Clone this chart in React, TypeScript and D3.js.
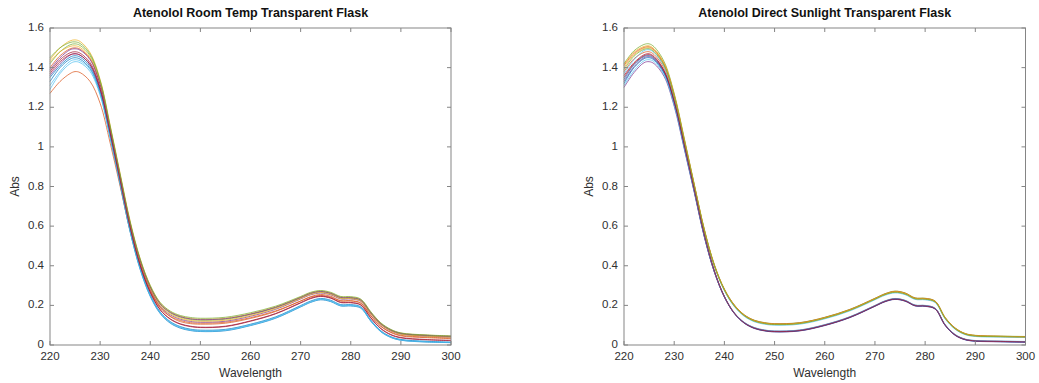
import React from "react";
import * as d3 from "d3";

const wavelengths = [220, 222, 224, 225, 226, 228, 230, 232, 234, 236, 238, 240, 242, 244, 246, 248, 250, 255, 260, 265, 270, 272, 274, 276, 278, 280, 282, 284, 286, 288, 290, 295, 300];

const xTicks = [220, 230, 240, 250, 260, 270, 280, 290, 300];
const yTicks = [0, 0.2, 0.4, 0.6, 0.8, 1, 1.2, 1.4, 1.6];

const lineColors = ["#0072BD", "#D95319", "#EDB120", "#7E2F8E", "#77AC30", "#4DBEEE", "#A2142F"];

const titleLeft = "Atenolol Room Temp Transparent Flask";
const titleRight = "Atenolol Direct Sunlight Transparent Flask";

// Room temp spectra
const roomTemp: number[][] = [
  [1.33, 1.40, 1.443, 1.45, 1.443, 1.395, 1.27, 1.05, 0.81, 0.57, 0.38, 0.245, 0.158, 0.11, 0.085, 0.073, 0.068, 0.072, 0.098, 0.135, 0.192, 0.215, 0.228, 0.219, 0.197, 0.197, 0.186, 0.12, 0.067, 0.038, 0.024, 0.015, 0.012],
  [1.27, 1.33, 1.37, 1.38, 1.375, 1.33, 1.22, 1.02, 0.80, 0.575, 0.395, 0.27, 0.188, 0.145, 0.124, 0.113, 0.11, 0.115, 0.138, 0.172, 0.222, 0.242, 0.25, 0.242, 0.222, 0.222, 0.21, 0.148, 0.095, 0.065, 0.049, 0.04, 0.035],
  [1.44, 1.50, 1.535, 1.54, 1.532, 1.475, 1.34, 1.11, 0.865, 0.625, 0.435, 0.30, 0.212, 0.168, 0.145, 0.134, 0.13, 0.135, 0.158, 0.192, 0.242, 0.263, 0.272, 0.263, 0.242, 0.241, 0.229, 0.165, 0.11, 0.077, 0.06, 0.05, 0.045],
  [1.36, 1.42, 1.463, 1.47, 1.463, 1.415, 1.29, 1.065, 0.83, 0.595, 0.41, 0.28, 0.195, 0.152, 0.13, 0.119, 0.115, 0.12, 0.145, 0.18, 0.232, 0.253, 0.262, 0.253, 0.232, 0.232, 0.22, 0.157, 0.103, 0.071, 0.055, 0.045, 0.04],
  [1.42, 1.48, 1.515, 1.52, 1.512, 1.46, 1.33, 1.10, 0.855, 0.615, 0.428, 0.293, 0.206, 0.162, 0.14, 0.129, 0.125, 0.13, 0.154, 0.188, 0.238, 0.259, 0.268, 0.259, 0.238, 0.237, 0.225, 0.161, 0.106, 0.074, 0.057, 0.047, 0.042],
  [1.29, 1.37, 1.42, 1.43, 1.425, 1.38, 1.26, 1.045, 0.81, 0.57, 0.382, 0.248, 0.161, 0.113, 0.088, 0.075, 0.07, 0.074, 0.10, 0.137, 0.194, 0.217, 0.23, 0.221, 0.199, 0.199, 0.188, 0.121, 0.068, 0.039, 0.025, 0.016, 0.012],
  [1.38, 1.44, 1.475, 1.48, 1.473, 1.425, 1.30, 1.075, 0.835, 0.595, 0.402, 0.266, 0.177, 0.13, 0.105, 0.093, 0.088, 0.093, 0.12, 0.157, 0.212, 0.234, 0.245, 0.236, 0.214, 0.213, 0.201, 0.136, 0.082, 0.051, 0.036, 0.026, 0.022],
  [1.35, 1.41, 1.453, 1.46, 1.453, 1.405, 1.28, 1.06, 0.82, 0.58, 0.39, 0.254, 0.166, 0.118, 0.093, 0.08, 0.075, 0.079, 0.105, 0.142, 0.199, 0.222, 0.235, 0.226, 0.204, 0.204, 0.193, 0.126, 0.072, 0.042, 0.028, 0.019, 0.015],
  [1.40, 1.46, 1.495, 1.50, 1.493, 1.445, 1.315, 1.09, 0.845, 0.605, 0.415, 0.28, 0.19, 0.143, 0.118, 0.108, 0.105, 0.11, 0.134, 0.169, 0.222, 0.244, 0.255, 0.246, 0.224, 0.224, 0.212, 0.148, 0.094, 0.063, 0.046, 0.037, 0.032],
  [1.43, 1.48, 1.507, 1.51, 1.502, 1.45, 1.32, 1.095, 0.85, 0.61, 0.423, 0.288, 0.20, 0.157, 0.135, 0.124, 0.12, 0.125, 0.149, 0.184, 0.235, 0.256, 0.265, 0.256, 0.235, 0.234, 0.222, 0.158, 0.104, 0.072, 0.055, 0.045, 0.04],
  [1.39, 1.45, 1.49, 1.495, 1.488, 1.44, 1.315, 1.09, 0.85, 0.612, 0.426, 0.293, 0.207, 0.165, 0.143, 0.132, 0.128, 0.133, 0.156, 0.19, 0.24, 0.261, 0.27, 0.261, 0.24, 0.239, 0.227, 0.163, 0.108, 0.076, 0.059, 0.049, 0.044],
  [1.45, 1.50, 1.527, 1.53, 1.522, 1.468, 1.335, 1.105, 0.86, 0.62, 0.433, 0.30, 0.214, 0.171, 0.149, 0.139, 0.135, 0.14, 0.163, 0.196, 0.245, 0.266, 0.275, 0.266, 0.245, 0.244, 0.232, 0.168, 0.112, 0.079, 0.061, 0.051, 0.046],
  [1.31, 1.38, 1.432, 1.44, 1.434, 1.39, 1.27, 1.05, 0.815, 0.575, 0.386, 0.251, 0.164, 0.116, 0.09, 0.077, 0.072, 0.076, 0.102, 0.139, 0.196, 0.219, 0.232, 0.223, 0.201, 0.201, 0.19, 0.123, 0.07, 0.04, 0.026, 0.017, 0.013],
  [1.37, 1.43, 1.465, 1.47, 1.463, 1.415, 1.29, 1.07, 0.83, 0.592, 0.401, 0.266, 0.178, 0.132, 0.107, 0.095, 0.09, 0.095, 0.122, 0.159, 0.214, 0.236, 0.247, 0.238, 0.216, 0.215, 0.203, 0.138, 0.084, 0.053, 0.038, 0.028, 0.024],
];

// Direct sunlight spectra
const sunlight: number[][] = [
  [1.34, 1.415, 1.456, 1.46, 1.447, 1.378, 1.225, 1.005, 0.78, 0.552, 0.372, 0.244, 0.16, 0.111, 0.085, 0.073, 0.068, 0.073, 0.10, 0.14, 0.197, 0.22, 0.232, 0.223, 0.199, 0.197, 0.183, 0.10, 0.05, 0.027, 0.02, 0.017, 0.015],
  [1.38, 1.445, 1.477, 1.48, 1.466, 1.397, 1.245, 1.025, 0.80, 0.575, 0.40, 0.278, 0.197, 0.148, 0.121, 0.109, 0.104, 0.109, 0.136, 0.176, 0.232, 0.255, 0.267, 0.258, 0.234, 0.232, 0.218, 0.135, 0.082, 0.055, 0.046, 0.042, 0.04],
  [1.40, 1.465, 1.497, 1.50, 1.486, 1.415, 1.26, 1.035, 0.807, 0.58, 0.403, 0.28, 0.20, 0.15, 0.123, 0.111, 0.106, 0.111, 0.138, 0.178, 0.234, 0.257, 0.27, 0.261, 0.236, 0.234, 0.22, 0.137, 0.084, 0.057, 0.048, 0.044, 0.042],
  [1.33, 1.405, 1.45, 1.455, 1.443, 1.375, 1.222, 1.002, 0.778, 0.55, 0.37, 0.242, 0.158, 0.109, 0.083, 0.071, 0.066, 0.071, 0.098, 0.138, 0.195, 0.218, 0.23, 0.221, 0.197, 0.195, 0.181, 0.098, 0.048, 0.026, 0.019, 0.016, 0.014],
  [1.42, 1.485, 1.517, 1.52, 1.505, 1.43, 1.27, 1.045, 0.812, 0.585, 0.406, 0.283, 0.202, 0.152, 0.125, 0.113, 0.108, 0.113, 0.14, 0.18, 0.236, 0.259, 0.272, 0.263, 0.238, 0.236, 0.222, 0.139, 0.086, 0.058, 0.049, 0.045, 0.043],
  [1.37, 1.44, 1.486, 1.49, 1.476, 1.405, 1.25, 1.028, 0.80, 0.573, 0.397, 0.274, 0.193, 0.144, 0.117, 0.105, 0.10, 0.105, 0.132, 0.172, 0.228, 0.251, 0.263, 0.254, 0.23, 0.228, 0.214, 0.131, 0.079, 0.052, 0.043, 0.04, 0.038],
  [1.35, 1.42, 1.46, 1.465, 1.452, 1.382, 1.228, 1.008, 0.782, 0.555, 0.375, 0.246, 0.162, 0.113, 0.087, 0.075, 0.07, 0.075, 0.102, 0.142, 0.199, 0.222, 0.234, 0.225, 0.201, 0.199, 0.185, 0.102, 0.052, 0.029, 0.022, 0.019, 0.017],
  [1.32, 1.40, 1.445, 1.45, 1.438, 1.37, 1.218, 0.998, 0.775, 0.548, 0.369, 0.242, 0.159, 0.11, 0.084, 0.072, 0.067, 0.072, 0.099, 0.139, 0.196, 0.219, 0.231, 0.222, 0.198, 0.196, 0.182, 0.099, 0.049, 0.027, 0.02, 0.017, 0.015],
  [1.41, 1.472, 1.502, 1.505, 1.49, 1.418, 1.262, 1.038, 0.808, 0.582, 0.404, 0.281, 0.201, 0.151, 0.124, 0.112, 0.107, 0.112, 0.139, 0.179, 0.235, 0.258, 0.271, 0.262, 0.237, 0.235, 0.221, 0.138, 0.085, 0.057, 0.048, 0.044, 0.042],
  [1.415, 1.478, 1.507, 1.51, 1.495, 1.422, 1.265, 1.04, 0.81, 0.583, 0.404, 0.28, 0.199, 0.149, 0.122, 0.11, 0.105, 0.11, 0.137, 0.177, 0.233, 0.256, 0.269, 0.26, 0.235, 0.233, 0.219, 0.136, 0.083, 0.056, 0.047, 0.043, 0.041],
  [1.30, 1.375, 1.425, 1.43, 1.42, 1.355, 1.205, 0.99, 0.77, 0.545, 0.368, 0.243, 0.16, 0.112, 0.086, 0.074, 0.069, 0.074, 0.101, 0.141, 0.198, 0.221, 0.233, 0.224, 0.20, 0.198, 0.184, 0.101, 0.051, 0.028, 0.021, 0.018, 0.016],
  [1.39, 1.458, 1.492, 1.495, 1.48, 1.41, 1.255, 1.032, 0.804, 0.578, 0.40, 0.277, 0.196, 0.147, 0.12, 0.108, 0.103, 0.108, 0.135, 0.175, 0.231, 0.254, 0.266, 0.257, 0.233, 0.231, 0.217, 0.134, 0.081, 0.054, 0.045, 0.042, 0.04],
  [1.31, 1.385, 1.435, 1.44, 1.43, 1.362, 1.21, 0.994, 0.773, 0.548, 0.37, 0.245, 0.162, 0.114, 0.088, 0.076, 0.071, 0.076, 0.103, 0.143, 0.20, 0.223, 0.235, 0.226, 0.202, 0.20, 0.186, 0.103, 0.053, 0.03, 0.023, 0.02, 0.018],
  [1.36, 1.425, 1.465, 1.47, 1.456, 1.385, 1.23, 1.01, 0.783, 0.555, 0.373, 0.244, 0.16, 0.111, 0.085, 0.073, 0.068, 0.073, 0.10, 0.14, 0.197, 0.22, 0.232, 0.223, 0.199, 0.197, 0.183, 0.10, 0.05, 0.028, 0.021, 0.018, 0.016],
];

const FONT = "'Liberation Sans', Arial, Helvetica, sans-serif";
const AXIS_COLOR = "#858585";
const TEXT_COLOR = "#303030";

type PanelProps = { left: number; right: number; top: number; bottom: number; title: string; series: number[][] };

function Panel({ left, right, top, bottom, title, series }: PanelProps) {
  const x = d3.scaleLinear().domain([220, 300]).range([left, right]);
  const y = d3.scaleLinear().domain([0, 1.6]).range([bottom, top]);
  const line = d3
    .line<number>()
    .x((_, i) => x(wavelengths[i]))
    .y((d) => y(d))
    .curve(d3.curveCatmullRom.alpha(0.5));
  const tl = 4;
  const cx = (left + right) / 2;
  return (
    <g>
      <g>
        {series.map((s, i) => (
          <path key={i} d={line(s) || ""} fill="none" stroke={lineColors[i % lineColors.length]} strokeWidth={0.8} strokeOpacity={0.9} />
        ))}
      </g>
      <rect x={left} y={top} width={right - left} height={bottom - top} fill="none" stroke={AXIS_COLOR} strokeWidth={1} />
      {xTicks.map((t) => (
        <g key={"x" + t}>
          <line x1={x(t)} x2={x(t)} y1={bottom} y2={bottom - tl} stroke={AXIS_COLOR} />
          <line x1={x(t)} x2={x(t)} y1={top} y2={top + tl} stroke={AXIS_COLOR} />
          <text x={x(t)} y={bottom + 12} textAnchor="middle" dominantBaseline="middle" fontSize={11.5} fill={TEXT_COLOR} fontFamily={FONT}>
            {t}
          </text>
        </g>
      ))}
      {yTicks.map((t) => (
        <g key={"y" + t}>
          <line x1={left} x2={left + tl} y1={y(t)} y2={y(t)} stroke={AXIS_COLOR} />
          <line x1={right} x2={right - tl} y1={y(t)} y2={y(t)} stroke={AXIS_COLOR} />
          <text x={left - 6} y={y(t)} textAnchor="end" dominantBaseline="middle" fontSize={11.5} fill={TEXT_COLOR} fontFamily={FONT}>
            {d3.format("~g")(t)}
          </text>
        </g>
      ))}
      <text x={cx} y={14} textAnchor="middle" dominantBaseline="middle" fontSize={12.5} fontWeight="bold" fill="#111" fontFamily={FONT}>
        {title}
      </text>
      <text x={cx} y={bottom + 29} textAnchor="middle" dominantBaseline="middle" fontSize={12} fill={TEXT_COLOR} fontFamily={FONT}>
        Wavelength
      </text>
      <text
        transform={`translate(${left - 34},${(top + bottom) / 2}) rotate(-90)`}
        textAnchor="middle"
        dominantBaseline="middle"
        fontSize={12}
        fill={TEXT_COLOR}
        fontFamily={FONT}
      >
        Abs
      </text>
    </g>
  );
}

export default function App() {
  return (
    <svg width={1039} height={383} style={{ position: "absolute", left: 0, top: 0, background: "#fff" }}>
      <rect x={0} y={0} width={1039} height={383} fill="#fff" />
      <Panel left={50} right={451} top={28} bottom={345} title={titleLeft} series={roomTemp} />
      <Panel left={624} right={1025.5} top={28} bottom={345} title={titleRight} series={sunlight} />
    </svg>
  );
}
